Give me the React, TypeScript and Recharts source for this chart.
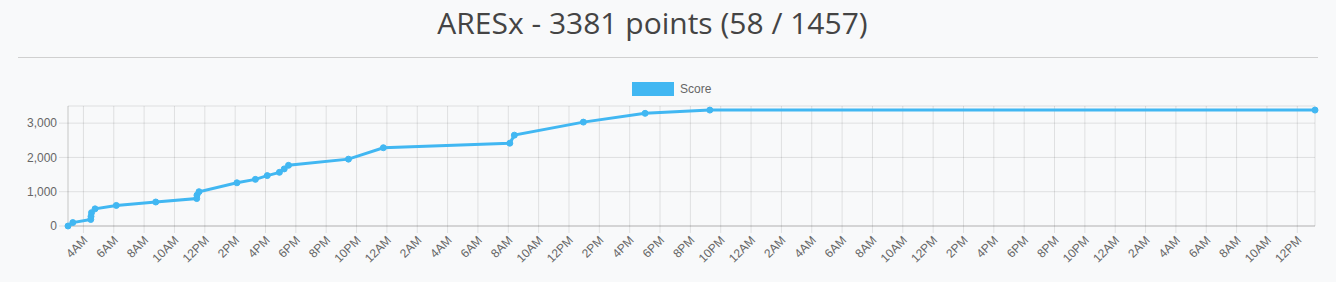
import { CartesianGrid, Line, LineChart, XAxis, YAxis } from "recharts";

// score progression (UTC timestamps)
const scoreTimes = [
  "2021-03-05T02:59",
  "2021-03-05T03:18",
  "2021-03-05T04:29",
  "2021-03-05T04:30",
  "2021-03-05T04:32",
  "2021-03-05T04:46",
  "2021-03-05T06:10",
  "2021-03-05T08:46",
  "2021-03-05T11:28",
  "2021-03-05T11:29",
  "2021-03-05T11:37",
  "2021-03-05T14:07",
  "2021-03-05T15:20",
  "2021-03-05T16:07",
  "2021-03-05T16:55",
  "2021-03-05T17:14",
  "2021-03-05T17:31",
  "2021-03-05T21:28",
  "2021-03-05T23:46",
  "2021-03-06T08:06",
  "2021-03-06T08:24",
  "2021-03-06T12:57",
  "2021-03-06T17:01",
  "2021-03-06T21:17",
  "2021-03-08T13:10",
];
const scoreValues = [
  0, 100, 190, 280, 390, 500, 600, 700, 800, 900, 1000, 1260, 1360, 1470, 1565,
  1665, 1770, 1950, 2283, 2415, 2650, 3030, 3286, 3381, 3381,
];

const firstTick = "2021-03-05T04:00";
const lastTick = "2021-03-08T12:00";
const tickStepHours = 2;
const yTicks = [0, 1000, 2000, 3000];
const yMax = 3500;

const title = "ARESx - 3381 points (58 / 1457)";
const seriesName = "Score";

const COLOR = "#41b7f2";
const GRID = "rgba(0,0,0,0.1)";
const TEXT = "#666";
const FONT = "'Helvetica Neue', Helvetica, Arial, 'Liberation Sans', sans-serif";

const toMs = (s: string) => Date.parse(s + ":00Z");

const data = scoreTimes.map((t, i) => ({ t: toMs(t), score: scoreValues[i] }));

const xTicks: number[] = [];
for (let t = toMs(firstTick); t <= toMs(lastTick); t += tickStepHours * 3600000) {
  xTicks.push(t);
}

const fmtHour = (ms: number) => {
  const h = new Date(ms).getUTCHours();
  const h12 = h % 12 === 0 ? 12 : h % 12;
  return `${h12}${h < 12 ? "AM" : "PM"}`;
};

const XTick = (props: any) => {
  const { x, payload } = props;
  return (
    <g transform={`translate(${x + 2},${238}) rotate(-45)`}>
      <text
        textAnchor="end"
        dy="0.35em"
        fontSize={12}
        fill={TEXT}
        fontFamily={FONT}
      >
        {fmtHour(payload.value)}
      </text>
    </g>
  );
};

export default function App() {
  return (
    <div
      style={{
        position: "absolute",
        left: 0,
        top: 0,
        width: 1336,
        height: 282,
        background: "#f8f9fa",
        overflow: "hidden",
      }}
    >
      <div
        style={{
          position: "absolute",
          top: 4,
          left: 0,
          width: 1305,
          textAlign: "center",
          fontFamily: "'Open Sans', sans-serif",
          fontWeight: 500,
          fontSize: 30,
          lineHeight: "38px",
          color: "#444",
        }}
      >
        {title}
      </div>
      <div
        style={{
          position: "absolute",
          top: 57,
          left: 18,
          width: 1300,
          height: 1,
          background: "#d0d0d0",
        }}
      />
      <div
        style={{
          position: "absolute",
          top: 82,
          left: 632,
          display: "flex",
          alignItems: "center",
          fontFamily: FONT,
          fontSize: 12,
          color: TEXT,
        }}
      >
        <span
          style={{
            display: "inline-block",
            width: 40,
            height: 12,
            background: COLOR,
            border: `1px solid ${COLOR}`,
            marginRight: 6,
          }}
        />
        <span>{seriesName}</span>
      </div>
      <div style={{ position: "absolute", left: 0, top: 0 }}>
        <LineChart
          width={1336}
          height={282}
          data={data}
          margin={{ top: 106, right: 21, bottom: 0, left: 8 }}
        >
          <CartesianGrid stroke={GRID} />
          <XAxis
            dataKey="t"
            type="number"
            scale="time"
            domain={[data[0].t, data[data.length - 1].t]}
            ticks={xTicks}
            interval={0}
            height={56}
            tickSize={7}
            tickLine={{ stroke: GRID }}
            axisLine={{ stroke: "rgba(0,0,0,0.2)" }}
            tick={<XTick />}
          />
          <YAxis
            width={60}
            domain={[0, yMax]}
            ticks={yTicks}
            interval={0}
            tickSize={9}
            tickMargin={2}
            tickLine={{ stroke: GRID }}
            axisLine={{ stroke: GRID }}
            tick={{ fontSize: 12, fill: TEXT, fontFamily: FONT }}
            tickFormatter={(v: number) => v.toLocaleString("en-US")}
          />
          <Line
            type="linear"
            dataKey="score"
            name={seriesName}
            stroke={COLOR}
            strokeWidth={3}
            dot={{ r: 3, fill: COLOR, stroke: COLOR, strokeWidth: 1 }}
            isAnimationActive={false}
          />
        </LineChart>
      </div>
    </div>
  );
}
